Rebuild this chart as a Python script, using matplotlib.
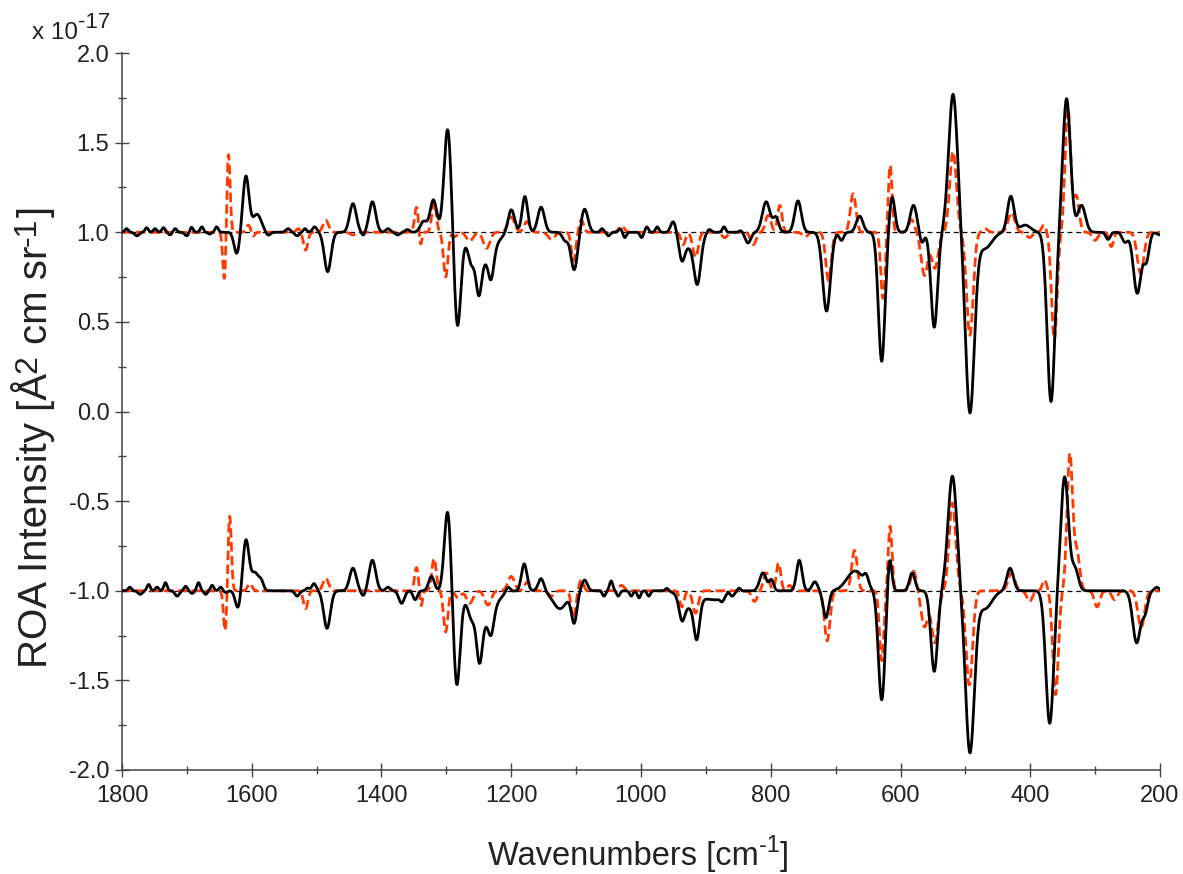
import numpy as np
import matplotlib.pyplot as plt
from matplotlib.ticker import MultipleLocator, FormatStrFormatter

plt.rcParams['font.family'] = ['Liberation Sans', 'DejaVu Sans']
plt.rcParams['axes.unicode_minus'] = False

# ROA bands, in units of 1e-17 A^2 cm sr^-1: centre [cm-1], height, FWHM [cm-1]
# experimental spectrum, upper trace
exp_top_centre = [1793, 1777, 1762, 1749, 1736, 1726, 1718, 1700, 1693, 1677, 1665, 1654,
                  1623, 1609, 1592, 1575, 1544, 1530, 1518, 1503, 1483,
                  1444, 1428, 1414, 1390, 1375, 1360, 1335, 1320, 1298, 1283,
                  1262, 1245, 1250, 1231,
                  1200, 1179, 1154, 1117, 1103, 1087,
                  1060, 1050, 1032, 1025, 999, 991, 975, 950,
                  925, 937, 913, 895, 872, 846, 835,
                  807, 792, 758, 714, 691, 663, 629, 613,
                  580, 567, 548, 519, 493, 470, 430, 408, 368, 344, 321, 280, 254, 235, 221, 200]
exp_top_height = [0.02, -0.02, 0.025, 0.02, 0.025, -0.015, 0.02, -0.02, 0.03, 0.03, -0.01, 0.03,
                  -0.12, 0.31, 0.10, -0.02, 0.02, -0.02, 0.02, 0.03, -0.22,
                  0.16, -0.02, 0.17, 0.02, -0.015, 0.015, 0.06, 0.18, 0.58, -0.52,
                  -0.08, -0.16, -0.20, -0.15,
                  0.13, 0.20, 0.14, -0.045, -0.21, 0.13,
                  0.02, -0.02, 0.02, -0.03, -0.03, 0.03, 0.03, 0.07,
                  -0.08, -0.11, -0.24, 0.02, 0.03, 0.01, -0.06,
                  0.17, 0.08, 0.175, -0.44, -0.045, 0.09, -0.72, 0.20,
                  0.15, -0.06, -0.53, 0.77, -1.0, -0.09, 0.20, 0.04, -0.945, 0.745, 0.15, -0.04, -0.055, -0.34, -0.15, -0.015]
exp_top_fwhm = [6, 8, 6, 6, 6, 6, 6, 8, 6, 6, 6, 6,
                10, 11, 16, 8, 8, 8, 6, 8, 12,
                12, 6, 12, 8, 8, 8, 12, 12, 13, 12,
                10, 40, 10, 10,
                12, 10, 12, 10, 12, 12,
                6, 6, 6, 6, 6, 6, 6, 10,
                30, 10, 12, 8, 6, 6, 10,
                14, 10, 12, 14, 8, 12, 12, 10,
                12, 8, 12, 16, 16, 25, 12, 20, 14, 14, 14, 8, 10, 14, 10, 10]

# calculated spectrum, upper trace
calc_top_centre = [1642, 1636, 1605, 1598, 1528, 1517, 1486, 1444, 1346, 1340, 1319, 1301, 1287, 1264, 1238,
                   1200, 1176, 1138, 1104, 1092, 1030, 935, 916, 871, 827, 804, 786, 747, 711, 673, 627, 616,
                   583, 563, 547, 519, 493, 470, 429, 401, 379, 363, 342, 329, 300, 275, 230]
calc_top_height = [-0.28, 0.45, 0.04, -0.025, 0.02, -0.10, 0.067, -0.015, 0.14, -0.08, 0.17, -0.25, -0.025, -0.05, -0.09,
                   0.085, 0.06, -0.04, -0.16, 0.07, 0.035, -0.07, -0.14, -0.03, -0.07, 0.095, 0.15, -0.025, -0.27, 0.215, -0.37, 0.375,
                   0.07, -0.24, -0.20, 0.45, -0.575, 0.02, 0.11, -0.03, 0.04, -0.60, 0.69, 0.20, -0.045, -0.08, -0.23]
calc_top_fwhm = [6, 6, 8, 6, 8, 8, 10, 10, 7, 5, 8, 8, 8, 12, 12,
                 12, 10, 12, 8, 8, 10, 8, 10, 10, 10, 10, 8, 10, 10, 10, 8, 7,
                 10, 12, 12, 12, 12, 10, 12, 10, 8, 10, 10, 10, 10, 8, 12]

# experimental spectrum, lower trace
exp_bot_centre = [1788, 1772, 1759, 1746, 1733, 1715, 1702, 1692, 1682, 1671, 1661, 1648, 1640,
                  1621, 1609, 1595, 1585, 1530, 1514, 1504, 1484,
                  1444, 1428, 1414, 1390, 1369, 1348, 1323, 1298, 1284, 1262,
                  1245, 1249, 1231,
                  1205, 1180, 1154, 1125, 1103, 1087,
                  1057, 1046, 1035, 1015, 1003, 988, 960,
                  925, 937, 914, 885, 875, 866, 859, 849, 812, 799, 756, 732, 715,
                  670, 653, 629, 617, 582, 548, 520, 493, 470, 431, 370, 347, 331, 236, 223, 205]
exp_bot_height = [0.02, -0.02, 0.035, 0.02, 0.045, -0.03, 0.025, -0.015, 0.045, -0.02, 0.03, 0.02, -0.01,
                  -0.10, 0.28, 0.10, 0.04, -0.03, 0.015, 0.04, -0.21,
                  0.126, -0.03, 0.17, 0.02, -0.07, -0.05, 0.08, 0.45, -0.52, -0.05,
                  -0.18, -0.23, -0.12,
                  0.03, 0.15, 0.07, -0.10, -0.17, 0.06,
                  -0.03, 0.055, -0.03, -0.03, -0.04, -0.03, 0.015,
                  -0.09, -0.11, -0.20, -0.05, -0.02, 0.015, -0.015, 0.02, 0.10, 0.06, 0.17, 0.05, -0.15,
                  0.11, 0.05, -0.61, 0.20, 0.10, -0.45, 0.64, -0.895, -0.10, 0.126, -0.74, 0.635, 0.12, -0.29, -0.11, 0.02]
exp_bot_fwhm = [6, 8, 6, 6, 6, 8, 6, 6, 6, 6, 6, 6, 6,
                10, 11, 14, 8, 8, 6, 8, 12,
                12, 8, 12, 8, 10, 8, 10, 12, 12, 10,
                40, 10, 10,
                8, 10, 10, 25, 10, 10,
                6, 6, 6, 6, 6, 6, 6,
                30, 10, 10, 40, 6, 6, 6, 6, 12, 8, 10, 10, 10,
                30, 8, 12, 8, 10, 12, 16, 16, 25, 12, 14, 14, 12, 14, 10, 8]

# calculated spectrum, lower trace
calc_bot_centre = [1641, 1634, 1603, 1517, 1486, 1346, 1339, 1319, 1301, 1282, 1264, 1236,
                   1200, 1175, 1138, 1104, 1092, 1030, 937, 916, 825, 807, 788, 771, 713, 671, 629, 616,
                   580, 563, 547, 520, 494, 429, 401, 378, 361, 339, 328, 297, 270, 229]
calc_bot_height = [-0.23, 0.42, 0.04, -0.10, 0.07, 0.13, -0.09, 0.18, -0.23, -0.04, -0.07, -0.08,
                   0.08, 0.05, -0.03, -0.155, 0.06, 0.03, -0.09, -0.125, -0.06, 0.10, 0.155, 0.03, -0.28, 0.225, -0.39, 0.36,
                   0.11, -0.20, -0.29, 0.49, -0.525, 0.10, -0.06, 0.06, -0.58, 0.76, 0.21, -0.09, -0.05, -0.205]
calc_bot_fwhm = [6, 6, 8, 8, 10, 7, 5, 8, 8, 10, 12, 12,
                 12, 10, 10, 8, 8, 10, 8, 10, 10, 10, 8, 8, 10, 10, 8, 7,
                 10, 12, 12, 12, 12, 12, 10, 8, 10, 10, 10, 10, 10, 12]

top_offset = 1.0
bot_offset = -1.0

wn = np.linspace(1800, 200, 3201)


def band_sum(x, centre, height, fwhm):
    c = np.asarray(centre, float)[:, None]
    h = np.asarray(height, float)[:, None]
    f = np.asarray(fwhm, float)[:, None]
    return (h * np.exp(-4 * np.log(2) * ((x[None, :] - c) / f) ** 2)).sum(axis=0)


exp_top = top_offset + band_sum(wn, exp_top_centre, exp_top_height, exp_top_fwhm)
calc_top = top_offset + band_sum(wn, calc_top_centre, calc_top_height, calc_top_fwhm)
exp_bot = bot_offset + band_sum(wn, exp_bot_centre, exp_bot_height, exp_bot_fwhm)
calc_bot = bot_offset + band_sum(wn, calc_bot_centre, calc_bot_height, calc_bot_fwhm)

W, H = 1183, 874
fig = plt.figure(figsize=(W / 100, H / 100), dpi=100)
ax = fig.add_axes([122 / W, 1 - 770 / H, 1038 / W, 717 / H])
renderer = fig.canvas.get_renderer()
txt_color = '#222222'

red = '#ff3a00'
for off in (top_offset, bot_offset):
    ax.plot([1800, 200], [off, off], color='black', lw=0.9, ls=(0, (4, 3)), zorder=1)
ax.plot(wn, calc_top, color=red, lw=2.0, ls=(0, (3.4, 1.6)), zorder=2)
ax.plot(wn, calc_bot, color=red, lw=2.0, ls=(0, (3.4, 1.6)), zorder=2)
ax.plot(wn, exp_top, color='black', lw=2.0, zorder=3)
ax.plot(wn, exp_bot, color='black', lw=2.0, zorder=3)

ax.set_xlim(1800, 200)
ax.set_ylim(-2.0, 2.0)
for side in ('top', 'right'):
    ax.spines[side].set_visible(False)
for side in ('left', 'bottom'):
    ax.spines[side].set_linewidth(1.1)
    ax.spines[side].set_color('#444444')

ax.xaxis.set_major_locator(MultipleLocator(200))
ax.xaxis.set_minor_locator(MultipleLocator(100))
ax.yaxis.set_major_locator(MultipleLocator(0.5))
ax.yaxis.set_minor_locator(MultipleLocator(0.25))
ax.yaxis.set_major_formatter(FormatStrFormatter('%.1f'))
ax.tick_params(which='major', direction='inout', length=10, width=1.0, colors='#444444',
               labelsize=17, labelcolor=txt_color)
ax.tick_params(which='minor', direction='inout', length=6, width=1.0, colors='#444444')
ax.tick_params(axis='x', which='major', pad=6)
ax.tick_params(axis='y', which='major', pad=4)


def text_width(s, size):
    t = fig.text(0, 0, s, fontsize=size)
    w = t.get_window_extent(renderer).width
    t.remove()
    return w


def rich_text(x, y, pieces, vertical=False):
    # pieces of (text, fontsize, baseline shift in px); x, y = baseline start in px from top-left
    pos = 0.0
    for s, size, rise in pieces:
        sp = text_width('x x', size) - text_width('xx', size)
        core = s.strip()
        pos += (len(s) - len(s.lstrip())) * sp
        if vertical:
            fig.text((x - rise) / W, 1 - (y - pos) / H, core, fontsize=size, rotation=90,
                     rotation_mode='anchor', ha='left', va='baseline', color=txt_color)
        else:
            fig.text((x + pos) / W, 1 - (y - rise) / H, core, fontsize=size,
                     ha='left', va='baseline', color=txt_color)
        pos += text_width(core, size) + (len(s) - len(s.rstrip())) * sp


rich_text(488, 865, [('Wavenumbers [cm', 23.5, 0), ('-1', 17, 13), (']', 23.5, 0)])
rich_text(47, 668, [('ROA Intensity [Å', 29, 0), ('2', 23, 11), (' cm sr', 29, 0),
                    ('-1', 23, 11), (']', 29, 0)], vertical=True)
rich_text(32, 39, [('x 10', 17.5, 0), ('-17', 16, 11)])

fig.savefig('out.png', dpi=100)
